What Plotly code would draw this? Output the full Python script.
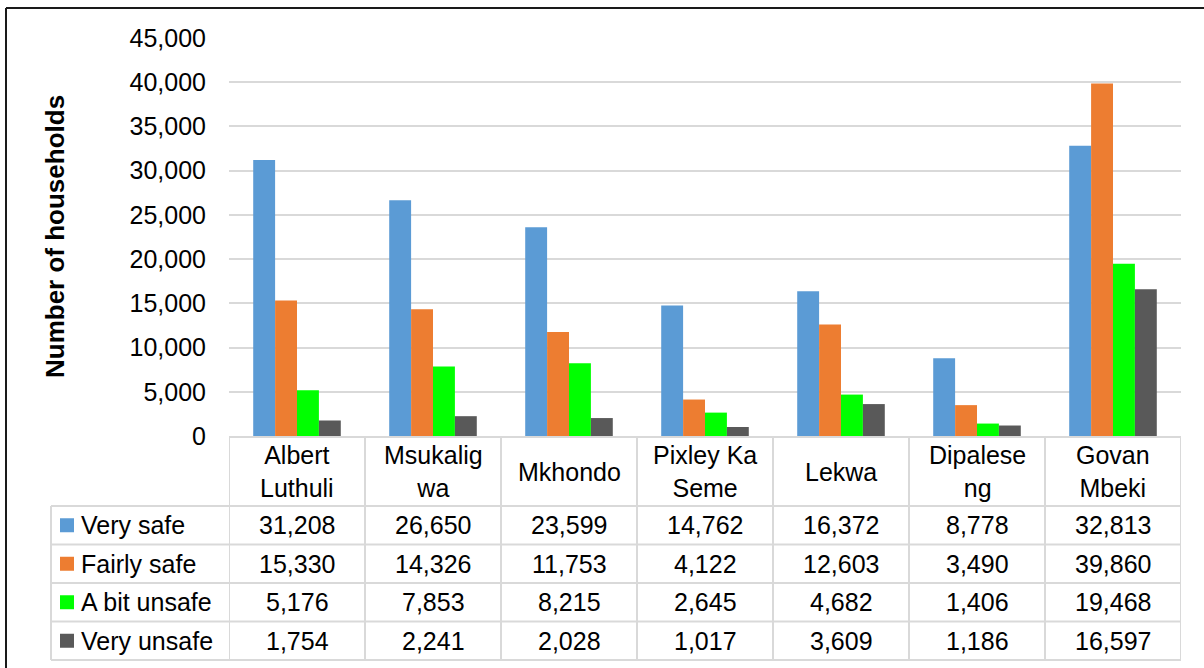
import plotly.graph_objects as go

# Municipalities (x categories) and the two-line labels shown in the table header
municipalities = ["Albert Luthuli", "Msukaligwa", "Mkhondo", "Pixley Ka Seme",
                  "Lekwa", "Dipaleseng", "Govan Mbeki"]
header_labels = ["Albert<br>Luthuli", "Msukalig<br>wa", "Mkhondo", "Pixley Ka<br>Seme",
                 "Lekwa", "Dipalese<br>ng", "Govan<br>Mbeki"]

# Households by perceived safety
very_safe = [31208, 26650, 23599, 14762, 16372, 8778, 32813]
fairly_safe = [15330, 14326, 11753, 4122, 12603, 3490, 39860]
a_bit_unsafe = [5176, 7853, 8215, 2645, 4682, 1406, 19468]
very_unsafe = [1754, 2241, 2028, 1017, 3609, 1186, 16597]

series_names = ["Very safe", "Fairly safe", "A bit unsafe", "Very unsafe"]
series_values = [very_safe, fairly_safe, a_bit_unsafe, very_unsafe]
series_colors = ["#5B9BD5", "#ED7D31", "#00FF00", "#595959"]

y_ticks = [0, 5000, 10000, 15000, 20000, 25000, 30000, 35000, 40000, 45000]

# ---- page geometry (pixels) ----
W, H = 1204, 668
L, R, T, B = 229, 1181, 38, 436
FONT = "Arial, Liberation Sans, sans-serif"
GRID = "#D9D9D9"
FS = 25


def px(x):
    return (x - L) / (R - L)


def py(y):
    return (B - y) / (B - T)


fig = go.Figure()
for name, vals, col in zip(series_names, series_values, series_colors):
    fig.add_trace(go.Bar(x=municipalities, y=vals, name=name,
                         marker=dict(color=col, line=dict(width=0))))

shapes = []
annotations = []

# Table grid lines
header_top = 437
row_edges = [506, 544.5, 583, 621.5, 660]
line = dict(color=GRID, width=2)
shapes.append(dict(type="line", xref="paper", yref="paper",
                   x0=px(L), x1=px(R), y0=py(header_top), y1=py(header_top), line=line))
for ry in row_edges:
    shapes.append(dict(type="line", xref="paper", yref="paper",
                       x0=px(51), x1=px(R), y0=py(ry), y1=py(ry), line=line))
for i in range(len(municipalities) + 1):
    shapes.append(dict(type="line", xref="x", yref="paper",
                       x0=i - 0.5, x1=i - 0.5, y0=py(header_top), y1=py(row_edges[-1]),
                       line=line))
shapes.append(dict(type="line", xref="paper", yref="paper",
                   x0=px(51), x1=px(51), y0=py(row_edges[0]), y1=py(row_edges[-1]),
                   line=line))

# Outer chart border (top and left edges visible)
shapes.append(dict(type="line", xref="paper", yref="paper",
                   x0=px(6), x1=px(W + 10), y0=py(8), y1=py(8),
                   line=dict(color="#1a1a1a", width=2)))
shapes.append(dict(type="line", xref="paper", yref="paper",
                   x0=px(6), x1=px(6), y0=py(8), y1=py(H + 10),
                   line=dict(color="#1a1a1a", width=2)))

# Header row text
for m, lab in zip(municipalities, header_labels):
    annotations.append(dict(x=m, xref="x", y=py((header_top + row_edges[0]) / 2),
                            yref="paper", text=lab, showarrow=False,
                            xanchor="center", yanchor="middle",
                            font=dict(family=FONT, size=FS, color="black")))

# Data rows with legend keys
for r, (name, vals, col) in enumerate(zip(series_names, series_values, series_colors)):
    yc = (row_edges[r] + row_edges[r + 1]) / 2
    shapes.append(dict(type="rect", xref="paper", yref="paper",
                       x0=px(60), x1=px(74), y0=py(yc - 7), y1=py(yc + 7),
                       fillcolor=col, line=dict(width=0)))
    annotations.append(dict(x=px(79), xref="paper", y=py(yc), yref="paper",
                            text=name, showarrow=False, xanchor="left", yanchor="middle",
                            font=dict(family=FONT, size=FS, color="black")))
    for m, v in zip(municipalities, vals):
        annotations.append(dict(x=m, xref="x", y=py(yc), yref="paper",
                                text=f"{v:,}", showarrow=False,
                                xanchor="center", yanchor="middle",
                                font=dict(family=FONT, size=FS, color="black")))

# Y axis title
annotations.append(dict(x=px(55), xref="paper", y=py(237), yref="paper",
                        text="<b>Number of households</b>", textangle=-90,
                        showarrow=False, xanchor="center", yanchor="middle",
                        font=dict(family=FONT, size=26, color="black")))

fig.update_layout(
    width=W, height=H,
    margin=dict(l=L, r=W - R, t=T, b=H - B, pad=0),
    paper_bgcolor="white", plot_bgcolor="white",
    barmode="group", bargap=0.356, bargroupgap=0,
    showlegend=False,
    shapes=shapes, annotations=annotations,
    xaxis=dict(range=[-0.5, 6.5], showticklabels=False, showgrid=False,
               zeroline=False, showline=False, fixedrange=True),
    yaxis=dict(range=[0, 45000], tickvals=y_ticks, tickformat=",",
               showgrid=True, gridcolor=GRID, gridwidth=2,
               zeroline=False, showline=False, ticks="",
               ticklabelstandoff=22,
               tickfont=dict(family=FONT, size=FS, color="black")),
)

fig.write_html("out.html")
